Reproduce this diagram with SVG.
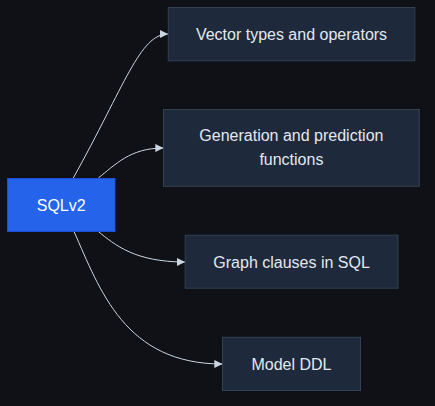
<svg xmlns="http://www.w3.org/2000/svg" width="435" height="406" viewBox="0 0 435 406">
<style>
.bg{fill:#0f1117}
.n rect{fill:#1e293b;stroke:#334155;stroke-width:1}
.root rect{fill:#2563eb;stroke:#1d4ed8;stroke-width:1}
text{font-family:"Liberation Sans",Arial,sans-serif;font-size:16px;fill:#e2e8f0;text-anchor:middle;dominant-baseline:central}
.root text{fill:#ffffff}
.e path{fill:none;stroke:#cbd5e1;stroke-width:1}
</style>
<defs>
<marker id="ah" viewBox="0 0 10 10" refX="10" refY="5" markerWidth="8" markerHeight="8" markerUnits="userSpaceOnUse" orient="auto">
<path d="M0,0 L10,5 L0,10 z" fill="#cbd5e1"/>
</marker>
</defs>
<rect class="bg" x="0" y="0" width="435" height="406"/>
<g id="connectors" class="e">
<path d="M73.3,178 C125,85 140,34 168,34" marker-end="url(#ah)"/>
<path d="M98.3,178 C115,165 130,148 163.3,148" marker-end="url(#ah)"/>
<path d="M98.3,231.5 C115,245 135,262 185,262" marker-end="url(#ah)"/>
<path d="M74,231.5 C100,290 125,364 222.3,364" marker-end="url(#ah)"/>
</g>
<g id="sqlv2" class="root">
<rect x="7.5" y="178.5" width="107.5" height="53"/>
<text x="61.2" y="205">SQLv2</text>
</g>
<g id="vector" class="n">
<rect x="168.3" y="7.5" width="246.5" height="53.3"/>
<text x="291.5" y="34">Vector types and operators</text>
</g>
<g id="generation" class="n">
<rect x="163.5" y="109.5" width="255.8" height="76.8"/>
<text x="291.4" y="135.5">Generation and prediction</text>
<text x="291.4" y="159">functions</text>
</g>
<g id="graph" class="n">
<rect x="185.2" y="235.2" width="212.8" height="53"/>
<text x="291.6" y="262">Graph clauses in SQL</text>
</g>
<g id="model" class="n">
<rect x="222.5" y="337.3" width="138" height="53.2"/>
<text x="291.5" y="364">Model DDL</text>
</g>
</svg>
